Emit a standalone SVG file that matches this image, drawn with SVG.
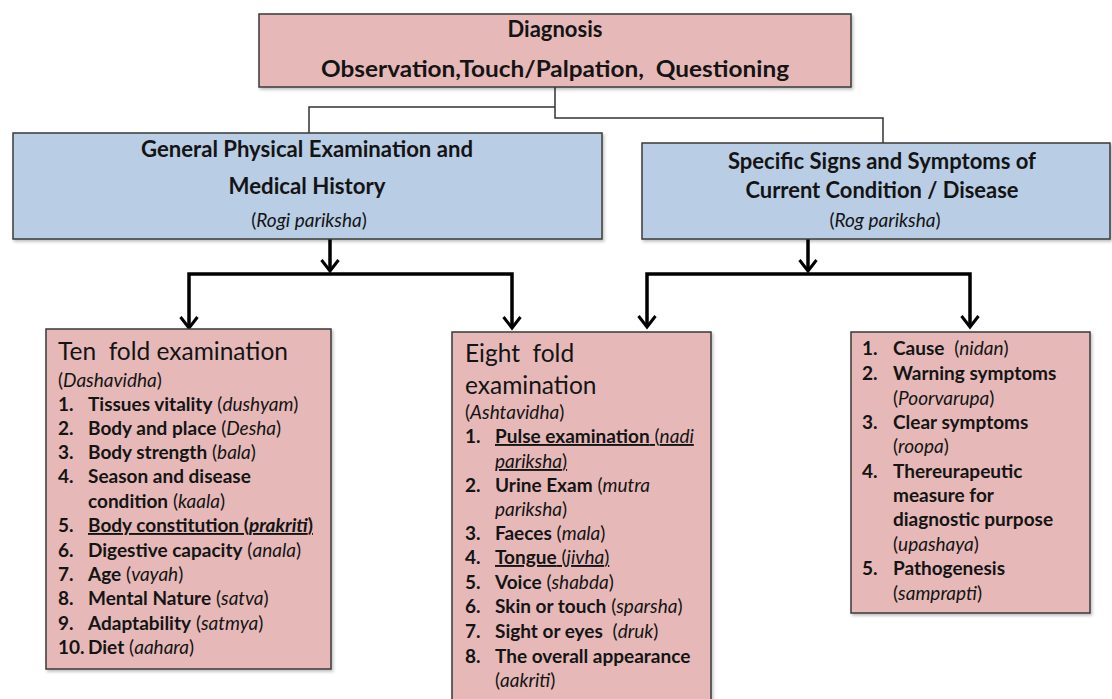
<svg xmlns="http://www.w3.org/2000/svg" width="1112" height="699" viewBox="0 0 1112 699">
<style>
.pink{fill:#e6b9b8;stroke:#3a3a3a;stroke-width:1.5;filter:url(#sh)}
.blue{fill:#b9cde5;stroke:#3a3a3a;stroke-width:1.5;filter:url(#sh)}
text{font-family:Lato,"Open Sans","Liberation Sans",sans-serif;fill:#141414}
.h{font-size:22px;font-weight:700}
.hs{font-size:19px}
.ti{font-size:24.5px}
.li{font-size:19px}
.b{font-weight:700}
.i{font-style:italic}
.u{text-decoration:underline}
.thin{fill:none;stroke:#333;stroke-width:1.5}
.thick{fill:none;stroke:#000;stroke-width:3.5;stroke-linejoin:miter}
</style>
<defs>
<filter id="sh" x="-5%" y="-5%" width="110%" height="115%">
<feDropShadow dx="1.5" dy="2" stdDeviation="1.5" flood-color="#000" flood-opacity="0.25"/>
</filter>
<marker id="ah" markerUnits="userSpaceOnUse" viewBox="-14 -10 16 20" refX="0" refY="0" markerWidth="16" markerHeight="20" orient="auto-start-reverse" overflow="visible">
<path d="M-11,-8.5 L0,0 L-11,8.5" fill="none" stroke="#000" stroke-width="3"/>
</marker>
</defs>

<g id="connectors">
<path class="thin" d="M555,87 V118 H883 V143"/>
<path class="thin" d="M555,107 H309 V133"/>
<path class="thick" d="M330,239 V271" marker-end="url(#ah)"/>
<path class="thick" d="M189,328 V274 H512 V328" marker-start="url(#ah)" marker-end="url(#ah)"/>
<path class="thick" d="M808,239 V271" marker-end="url(#ah)"/>
<path class="thick" d="M647,327 V274 H970 V327" marker-start="url(#ah)" marker-end="url(#ah)"/>
</g>

<g id="diagnosis">
<rect class="pink" x="259" y="14" width="592" height="73"/>
<text class="h" x="555" y="37" text-anchor="middle">Diagnosis</text>
<text class="h" x="555" y="77" text-anchor="middle" textLength="468" lengthAdjust="spacingAndGlyphs" xml:space="preserve">Observation,Touch/Palpation,  Questioning</text>
</g>

<g id="general">
<rect class="blue" x="13" y="133" width="589" height="106"/>
<text class="h" x="307" y="157" text-anchor="middle" textLength="332" lengthAdjust="spacingAndGlyphs">General Physical Examination and</text>
<text class="h" x="307" y="194" text-anchor="middle" textLength="157" lengthAdjust="spacingAndGlyphs">Medical History</text>
<text class="hs" x="309" y="227" text-anchor="middle">(<tspan class="i">Rogi pariksha</tspan>)</text>
</g>

<g id="specific">
<rect class="blue" x="642" y="143" width="468" height="96"/>
<text class="h" x="882" y="169" text-anchor="middle" textLength="308" lengthAdjust="spacingAndGlyphs">Specific Signs and Symptoms of</text>
<text class="h" x="882" y="198" text-anchor="middle" textLength="273" lengthAdjust="spacingAndGlyphs">Current Condition / Disease</text>
<text class="hs" x="885" y="227" text-anchor="middle">(<tspan class="i">Rog pariksha</tspan>)</text>
</g>

<g id="tenfold">
<rect class="pink" x="46" y="329" width="285" height="340"/>
<text class="ti" x="58" y="360" xml:space="preserve">Ten  fold examination</text>
<text class="hs" x="58" y="387">(<tspan class="i">Dashavidha</tspan>)</text>
<g class="li">
<text class="b" x="58" y="411">1.</text><text x="88" y="411"><tspan class="b">Tissues vitality</tspan> (<tspan class="i">dushyam</tspan>)</text>
<text class="b" x="58" y="435">2.</text><text x="88" y="435"><tspan class="b">Body and place</tspan> (<tspan class="i">Desha</tspan>)</text>
<text class="b" x="58" y="459">3.</text><text x="88" y="459"><tspan class="b">Body strength</tspan> (<tspan class="i">bala</tspan>)</text>
<text class="b" x="58" y="483">4.</text><text class="b" x="88" y="483">Season and disease</text>
<text x="88" y="508"><tspan class="b">condition</tspan> (<tspan class="i">kaala</tspan>)</text>
<text class="b" x="58" y="532">5.</text><text class="b u" x="88" y="532">Body constitution (<tspan class="i">prakriti</tspan>)</text>
<text class="b" x="58" y="557">6.</text><text x="88" y="557"><tspan class="b">Digestive capacity</tspan> (<tspan class="i">anala</tspan>)</text>
<text class="b" x="58" y="581">7.</text><text x="88" y="581"><tspan class="b">Age</tspan> (<tspan class="i">vayah</tspan>)</text>
<text class="b" x="58" y="605">8.</text><text x="88" y="605"><tspan class="b">Mental Nature</tspan> (<tspan class="i">satva</tspan>)</text>
<text class="b" x="58" y="630">9.</text><text x="88" y="630"><tspan class="b">Adaptability</tspan> (<tspan class="i">satmya</tspan>)</text>
<text class="b" x="58" y="654">10.</text><text x="88" y="654"><tspan class="b">Diet</tspan> (<tspan class="i">aahara</tspan>)</text>
</g>
</g>

<g id="eightfold">
<rect class="pink" x="452" y="332" width="259" height="372"/>
<text class="ti" x="465" y="362" xml:space="preserve">Eight  fold</text>
<text class="ti" x="465" y="394">examination</text>
<text class="hs" x="465" y="419">(<tspan class="i">Ashtavidha</tspan>)</text>
<g class="li">
<text class="b" x="465" y="443">1.</text><text class="u" x="495" y="443"><tspan class="b">Pulse examination</tspan> (<tspan class="i">nadi</tspan></text>
<text class="u" x="495" y="468"><tspan class="i">pariksha</tspan>)</text>
<text class="b" x="465" y="492">2.</text><text x="495" y="492"><tspan class="b">Urine Exam</tspan> (<tspan class="i">mutra</tspan></text>
<text x="495" y="516"><tspan class="i">pariksha</tspan>)</text>
<text class="b" x="465" y="540">3.</text><text x="495" y="540"><tspan class="b">Faeces</tspan> (<tspan class="i">mala</tspan>)</text>
<text class="b" x="465" y="564">4.</text><text class="u" x="495" y="564"><tspan class="b">Tongue</tspan> (<tspan class="i">jivha</tspan>)</text>
<text class="b" x="465" y="589">5.</text><text x="495" y="589"><tspan class="b">Voice</tspan> (<tspan class="i">shabda</tspan>)</text>
<text class="b" x="465" y="613">6.</text><text x="495" y="613"><tspan class="b">Skin or touch</tspan> (<tspan class="i">sparsha</tspan>)</text>
<text class="b" x="465" y="638">7.</text><text x="495" y="638" xml:space="preserve"><tspan class="b">Sight or eyes</tspan>  (<tspan class="i">druk</tspan>)</text>
<text class="b" x="465" y="663">8.</text><text class="b" x="495" y="663">The overall appearance</text>
<text x="495" y="687">(<tspan class="i">aakriti</tspan>)</text>
</g>
</g>

<g id="disease">
<rect class="pink" x="851" y="332" width="239" height="281"/>
<g class="li">
<text class="b" x="862" y="355">1.</text><text x="893" y="355" xml:space="preserve"><tspan class="b">Cause</tspan>  (<tspan class="i">nidan</tspan>)</text>
<text class="b" x="862" y="380">2.</text><text class="b" x="893" y="380">Warning symptoms</text>
<text x="893" y="405">(<tspan class="i">Poorvarupa</tspan>)</text>
<text class="b" x="862" y="429">3.</text><text class="b" x="893" y="429">Clear symptoms</text>
<text x="893" y="453">(<tspan class="i">roopa</tspan>)</text>
<text class="b" x="862" y="478">4.</text><text class="b" x="893" y="478">Thereurapeutic</text>
<text class="b" x="893" y="502">measure for</text>
<text class="b" x="893" y="526">diagnostic purpose</text>
<text x="893" y="551">(<tspan class="i">upashaya</tspan>)</text>
<text class="b" x="862" y="575">5.</text><text class="b" x="893" y="575">Pathogenesis</text>
<text x="893" y="600">(<tspan class="i">samprapti</tspan>)</text>
</g>
</g>
</svg>
